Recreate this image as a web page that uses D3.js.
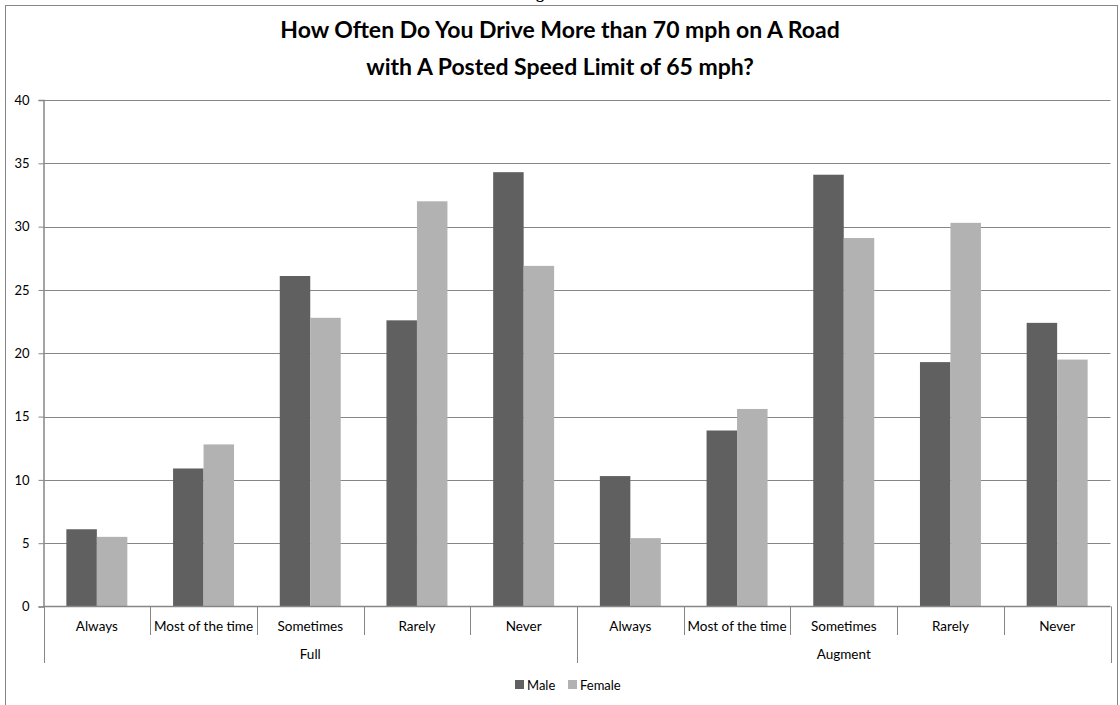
<!DOCTYPE html>
<html>
<head>
<meta charset="utf-8">
<script src="https://cdn.jsdelivr.net/npm/d3@7"></script>
<style>
  html, body { margin: 0; padding: 0; background: #fff; }
  svg { display: block; }
  text { font-family: Lato, "Open Sans", sans-serif; fill: #000; }
</style>
</head>
<body>
<svg id="chart" width="1120" height="705"></svg>
<script>
// Survey responses (%) by road type and driver gender
const groups = ["Full", "Augment"];
const categories = ["Always", "Most of the time", "Sometimes", "Rarely", "Never"];
const seriesNames = ["Male", "Female"];
const maleValues   = [6.1, 10.9, 26.1, 22.6, 34.3, 10.3, 13.9, 34.1, 19.3, 22.4];
const femaleValues = [5.5, 12.8, 22.8, 32.0, 26.9, 5.4, 15.6, 29.1, 30.3, 19.5];
const yTicks = [0, 5, 10, 15, 20, 25, 30, 35, 40];
const titleLines = ["How Often Do You Drive More than 70 mph on A Road",
                    "with A Posted Speed Limit of 65 mph?"];

const colors = { Male: "#606060", Female: "#b2b2b2" };
const axisColor = "#868686";

// One row per group/category slot
const rows = [];
groups.forEach((g, gi) => categories.forEach((c, ci) => {
  const i = gi * categories.length + ci;
  rows.push({ key: i, group: g, category: c, Male: maleValues[i], Female: femaleValues[i] });
}));

const svg = d3.select("#chart");
const plot = { left: 43.5, right: 1110.5, top: 100, bottom: 606.5 };

// Outer chart-area border
svg.append("rect")
  .attr("x", 5.5).attr("y", 5.5)
  .attr("width", 1112).attr("height", 720)
  .attr("fill", "none").attr("stroke", axisColor).attr("stroke-width", 1);

// Heading fragment above the chart frame (only its descender falls on the page)
svg.append("text")
  .attr("x", 540).attr("y", -2)
  .attr("text-anchor", "middle")
  .style("font-family", "'Liberation Serif', serif")
  .style("font-weight", "bold").style("font-size", "16px")
  .text("g");

const x0 = d3.scaleBand().domain(rows.map(d => d.key))
  .range([plot.left, plot.right]).paddingInner(0).paddingOuter(0);
const x1 = d3.scaleBand().domain(seriesNames)
  .range([0, x0.bandwidth()]).paddingInner(0).paddingOuter(0.75);
const y = d3.scaleLinear().domain([0, 40]).range([plot.bottom, plot.top]);

// Gridlines
svg.append("g").selectAll("line").data(yTicks.filter(t => t > 0)).join("line")
  .attr("x1", plot.left).attr("x2", plot.right)
  .attr("y1", d => Math.round(y(d)) + 0.5).attr("y2", d => Math.round(y(d)) + 0.5)
  .attr("stroke", axisColor).attr("stroke-width", 1.2);

// Y axis
const yAxis = svg.append("g")
  .attr("transform", `translate(${plot.left},0)`)
  .call(d3.axisLeft(y).tickValues(yTicks).tickSize(5).tickPadding(9));
yAxis.select(".domain").attr("stroke", axisColor).attr("stroke-width", 1.5);
yAxis.selectAll(".tick line").attr("stroke", axisColor);
yAxis.selectAll(".tick text").style("font-size", "13px").style("font-family", "Lato, sans-serif").attr("fill", "#000");

// Bars
const slot = svg.append("g").selectAll("g").data(rows).join("g")
  .attr("transform", d => `translate(${x0(d.key)},0)`);
slot.selectAll("rect").data(d => seriesNames.map(s => ({ s, v: d[s] }))).join("rect")
  .attr("x", d => x1(d.s))
  .attr("width", x1.bandwidth())
  .attr("y", d => y(d.v))
  .attr("height", d => y(0) - y(d.v))
  .attr("fill", d => colors[d.s]);

// Category axis: baseline, separators and two-level labels
const xg = svg.append("g");
xg.append("line")
  .attr("x1", plot.left).attr("x2", plot.right)
  .attr("y1", plot.bottom).attr("y2", plot.bottom)
  .attr("stroke", axisColor).attr("stroke-width", 1.5);

const boundaries = d3.range(rows.length + 1).map(i =>
  i < rows.length ? x0(rows[i].key) : x0(rows[rows.length - 1].key) + x0.bandwidth());
xg.selectAll("line.sep").data(boundaries).join("line")
  .attr("class", "sep")
  .attr("x1", d => Math.round(d) + 0.5).attr("x2", d => Math.round(d) + 0.5)
  .attr("y1", plot.bottom)
  .attr("y2", (d, i) => (i % categories.length === 0) ? 663 : 635)
  .attr("stroke", axisColor).attr("stroke-width", 1);

xg.selectAll("text.cat").data(rows).join("text")
  .attr("class", "cat")
  .attr("x", d => x0(d.key) + x0.bandwidth() / 2)
  .attr("y", 631)
  .attr("text-anchor", "middle")
  .style("font-size", "13.5px")
  .text(d => d.category);

xg.selectAll("text.grp").data(groups).join("text")
  .attr("class", "grp")
  .attr("x", (g, gi) => {
    const first = rows[gi * categories.length].key;
    const last = rows[gi * categories.length + categories.length - 1].key;
    return (x0(first) + x0(last) + x0.bandwidth()) / 2;
  })
  .attr("y", 659)
  .attr("text-anchor", "middle")
  .style("font-size", "13.5px")
  .text(g => g);

// Title
svg.append("g").selectAll("text").data(titleLines).join("text")
  .attr("x", 560)
  .attr("y", (d, i) => 38 + i * 37)
  .attr("text-anchor", "middle")
  .style("font-size", "23px").style("font-weight", "bold")
  .text(d => d);

// Legend
const legend = svg.append("g").attr("transform", "translate(515,680)");
const items = legend.selectAll("g").data(seriesNames).join("g")
  .attr("transform", (d, i) => `translate(${i * 53},0)`);
items.append("rect").attr("width", 9).attr("height", 9).attr("fill", d => colors[d]);
items.append("text").attr("x", 12).attr("y", 9.5).style("font-size", "13px").text(d => d);
</script>
</body>
</html>
